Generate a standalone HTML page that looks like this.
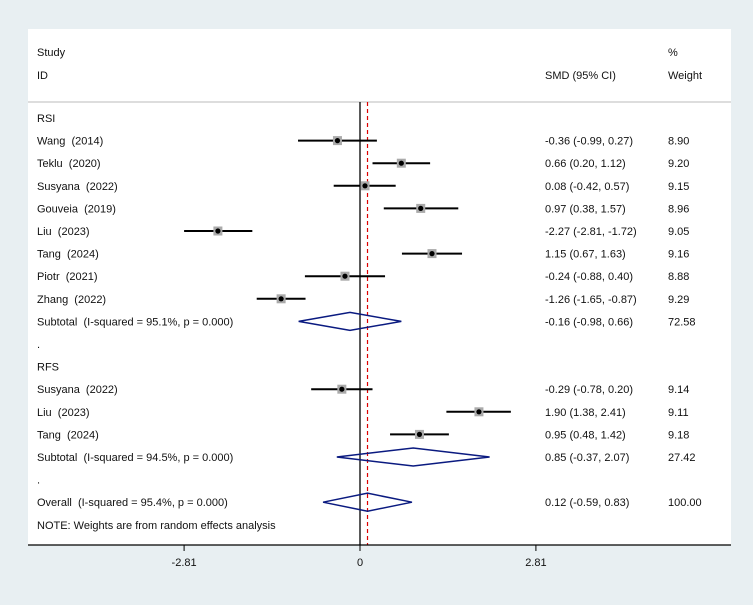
<!DOCTYPE html>
<html><head><meta charset="utf-8"><style>
html,body{margin:0;padding:0;background:#e8eff2;}
svg{display:block;font-family:"Liberation Sans",Arial,sans-serif;}
text{font-size:11px;fill:#111;white-space:pre;}
</style></head><body>
<svg id="c" width="753" height="605">
<rect x="28" y="29" width="703" height="516" fill="#fff"/>
<text x="37" y="56">Study</text>
<text x="37" y="79">ID</text>
<text x="545" y="79">SMD (95% CI)</text>
<text x="668" y="56">%</text>
<text x="668" y="79">Weight</text>
<line x1="28" y1="102" x2="731" y2="102" stroke="#bbb" stroke-width="1"/>
<g id="g"></g>
</svg>
<script>
const labels=["RSI","Wang  (2014)","Teklu  (2020)","Susyana  (2022)","Gouveia  (2019)","Liu  (2023)","Tang  (2024)","Piotr  (2021)","Zhang  (2022)","Subtotal  (I-squared = 95.1%, p = 0.000)",".","RFS","Susyana  (2022)","Liu  (2023)","Tang  (2024)","Subtotal  (I-squared = 94.5%, p = 0.000)",".","Overall  (I-squared = 95.4%, p = 0.000)"];
const kinds=["h","s","s","s","s","s","s","s","s","d","b","h","s","s","s","d","b","d"];
const est=[null,-0.36,0.66,0.08,0.97,-2.27,1.15,-0.24,-1.26,-0.16,null,null,-0.29,1.90,0.95,0.85,null,0.12];
const lo=[null,-0.99,0.20,-0.42,0.38,-2.81,0.67,-0.88,-1.65,-0.98,null,null,-0.78,1.38,0.48,-0.37,null,-0.59];
const hi=[null,0.27,1.12,0.57,1.57,-1.72,1.63,0.40,-0.87,0.66,null,null,0.20,2.41,1.42,2.07,null,0.83];
const weights=[null,"8.90","9.20","9.15","8.96","9.05","9.16","8.88","9.29","72.58",null,null,"9.14","9.11","9.18","27.42",null,"100.00"];
const ticks=[-2.81,0,2.81];
const overall=0.12;
const X=v=>360+v*62.6, Y=i=>118+i*22.6;
const NS="http://www.w3.org/2000/svg", g=document.getElementById('g');
function mk(t,a){const e=document.createElementNS(NS,t);for(const k in a)e.setAttribute(k,a[k]);g.appendChild(e);return e;}
const f=v=>v.toFixed(2);
let zl=mk('line',{x1:X(0),y1:102,x2:X(0),y2:545,stroke:'#000','stroke-width':1.3});


let ol=mk('line',{x1:X(overall),y1:102,x2:X(overall),y2:545,stroke:'#d00','stroke-width':1.2,'stroke-dasharray':'4,3'});


labels.forEach((l,i)=>{
 const y=Y(i);
 let t=mk('text',{x:37,y:y+4});t.textContent=l;
 
 
 if(kinds[i]==='s'){
  let ln=mk('line',{x1:X(lo[i]),y1:y,x2:X(hi[i]),y2:y,stroke:'#000','stroke-width':2});
  
  
  let sq=mk('rect',{x:X(est[i])-4.5,y:y-4.5,width:9,height:9,fill:'#aaa'});
  
  
  let pt=mk('circle',{cx:X(est[i]),cy:y,r:2.6,fill:'#000'});
  
  
 }
 if(kinds[i]==='d'){
  let d=mk('polygon',{points:`${X(lo[i])},${y} ${X(est[i])},${y-9} ${X(hi[i])},${y} ${X(est[i])},${y+9}`,fill:'none',stroke:'#0a1a80','stroke-width':1.5});
  
  
 }
 if(est[i]!==null){
  let c=mk('text',{x:545,y:y+4});c.textContent=`${f(est[i])} (${f(lo[i])}, ${f(hi[i])})`;
  
  
  let w=mk('text',{x:668,y:y+4});w.textContent=weights[i];
  
  
 }
});
let n=mk('text',{x:37,y:Y(18)+4});n.textContent="NOTE: Weights are from random effects analysis";


let ax=mk('line',{x1:28,y1:545,x2:731,y2:545,stroke:'#000','stroke-width':1.3});


ticks.forEach(v=>{
 let tk=mk('line',{x1:X(v),y1:545,x2:X(v),y2:551,stroke:'#000','stroke-width':1});
 
 
 let tl=mk('text',{x:X(v),y:566,'text-anchor':'middle'});tl.textContent=v===0?"0":v.toFixed(2);
 
 
});
</script>
</body></html>
